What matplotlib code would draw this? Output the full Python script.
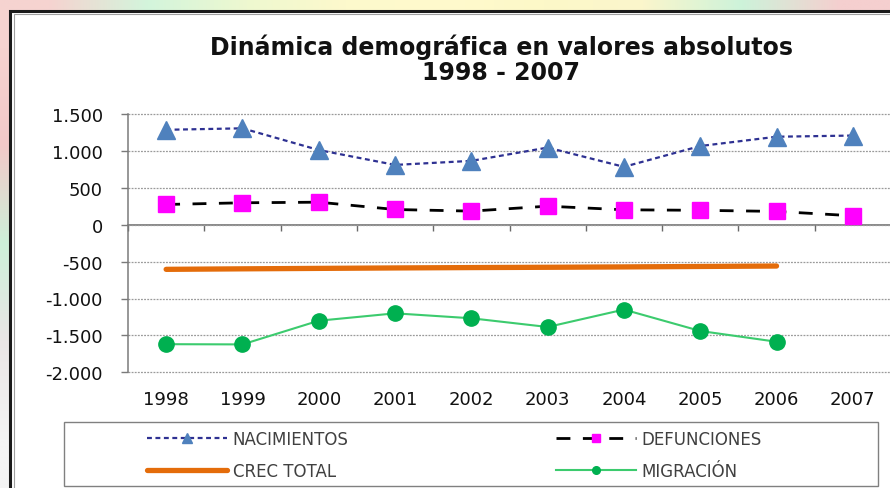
import matplotlib
matplotlib.use("Agg")
import matplotlib.pyplot as plt
import numpy as np
from matplotlib.colors import to_rgb
from matplotlib.patches import Rectangle
from matplotlib.ticker import FuncFormatter, NullFormatter

years = ["1998", "1999", "2000", "2001", "2002", "2003", "2004", "2005", "2006", "2007"]
nacimientos = [1286, 1306, 1012, 810, 865, 1045, 784, 1066, 1192, 1208]
defunciones = [274, 297, 305, 206, 184, 251, 202, 195, 180, 121]
crec_total = [-605, -598, -592, -586, -581, -577, -572, -566, -560]
migracion = [-1619, -1622, -1301, -1201, -1268, -1386, -1150, -1440, -1586]

plt.rcParams["font.family"] = ["DejaVu Sans"]

W, H = 890, 489
fig = plt.figure(figsize=(W / 100, H / 100), dpi=100)


def fx(px):
    return px / W


def fy(py):
    return 1 - py / H


# blurry slide background peeking out around the chart frame
top_cols = ["#f6d3d0", "#d3f5dc", "#eef8d0", "#fdf9cc", "#fffacd",
            "#fdf8c8", "#fbf6cc", "#cdf3da", "#f5cfcf"]
left_cols = ["#f6d3d0", "#f2c9c9", "#cdf0d9", "#eae6e6", "#f4f4f4"]
bg = np.ones((len(left_cols), len(top_cols), 3))
for j, c in enumerate(top_cols):
    bg[0, j] = to_rgb(c)
for i, c in enumerate(left_cols[1:], start=1):
    bg[i, 0] = to_rgb(c)
bg_ax = fig.add_axes([0, 0, 1, 1], zorder=-10)
bg_ax.imshow(bg, aspect="auto", interpolation="bilinear", extent=[0, 1, 0, 1])
bg_ax.set_axis_off()

# chart area frame
fig.patches.append(Rectangle((fx(10), fy(500)), 1.0, fy(12) - fy(500),
                             transform=fig.transFigure, facecolor="white",
                             edgecolor="#1a1a1a", linewidth=2.2, zorder=-5))
fig.patches.append(Rectangle((fx(13.5), fy(500)), 1.0, fy(15) - fy(500),
                             transform=fig.transFigure, facecolor="none",
                             edgecolor="#a0a0a0", linewidth=0.8, zorder=-4))

fig.text(fx(501), fy(59.5), "Dinámica demográfica en valores absolutos\n1998 - 2007",
         ha="center", va="center", fontsize=17, fontweight="bold",
         color="#111111", linespacing=1.05)

ax = fig.add_axes([fx(128), fy(373.3), fx(891) - fx(128), fy(115) - fy(373.3)])
ax.set_facecolor("none")
x = np.arange(len(years))

ax.plot(x, nacimientos, color="#2E3192", linestyle=(0, (2.2, 1.6)), linewidth=1.6,
        marker="^", markersize=13, markerfacecolor="#4F81BD",
        markeredgecolor="#4F81BD", label="NACIMIENTOS", zorder=4)
ax.plot(x, defunciones, color="black", linestyle=(0, (5, 4.5)), linewidth=2.0,
        marker="s", markersize=12, markerfacecolor="#FF00FF",
        markeredgecolor="#FF00FF", label="DEFUNCIONES", zorder=4)
ax.plot(x[:len(crec_total)], crec_total, color="#E46C0A", linewidth=3.8,
        solid_capstyle="round", label="CREC TOTAL", zorder=3)
ax.plot(x[:len(migracion)], migracion, color="#3CCB6E", linewidth=1.5,
        marker="o", markersize=11, markerfacecolor="#00B050",
        markeredgecolor="#00B050", label="MIGRACIÓN", zorder=4)

ax.set_xlim(-0.5, len(years) - 0.5)
ax.set_ylim(-2000, 1500)
ax.set_yticks(np.arange(-2000, 1501, 500))
ax.yaxis.set_major_formatter(FuncFormatter(lambda v, p: f"{int(v):,}".replace(",", ".")))
ax.grid(axis="y", color="#9a9a9a", linestyle=(0, (1.5, 1)), linewidth=0.9)
for gl in ax.yaxis.get_gridlines():
    gl.set_clip_on(False)
ax.set_axisbelow(True)

for s in ["top", "right", "bottom"]:
    ax.spines[s].set_visible(False)
ax.spines["left"].set_color("#7a7a7a")
ax.spines["left"].set_linewidth(1.1)
ax.tick_params(axis="y", direction="out", length=5, color="#7a7a7a", width=1,
               pad=13, labelsize=13, labelcolor="#111111")
ax.set_xticks(x)
ax.set_xticklabels(years)
ax.tick_params(axis="x", length=0, pad=13, labelsize=13, labelcolor="#111111")

# category axis crossing at zero with tick marks (pointing down) between categories
zero_ax = ax.secondary_xaxis(2000 / 3500)
zero_ax.set_xticks(np.arange(-0.5, len(years), 1.0))
zero_ax.xaxis.set_major_formatter(NullFormatter())
zero_ax.tick_params(direction="in", length=4, color="#6a6a6a", width=1,
                    labelbottom=False, labeltop=False)
for s in zero_ax.spines.values():
    s.set_color("#6a6a6a")
    s.set_linewidth(1.1)

# legend box
fig.patches.append(Rectangle((fx(64), fy(487)), fx(878) - fx(64), fy(423) - fy(487),
                             transform=fig.transFigure, facecolor="white",
                             edgecolor="#808080", linewidth=1.0, zorder=1))
h, lab = ax.get_legend_handles_labels()
order = {l: hh for hh, l in zip(h, lab)}
common = dict(frameon=False, fontsize=12, handlelength=4.8, handletextpad=0.35,
              labelspacing=0.85, borderpad=0, borderaxespad=0, markerscale=0.5,
              labelcolor="#404040", loc="upper left", bbox_transform=fig.transFigure)
leg1 = fig.legend([order["NACIMIENTOS"], order["CREC TOTAL"]],
                  ["NACIMIENTOS", "CREC TOTAL"], bbox_to_anchor=(fx(147), fy(431)), **common)
leg2 = fig.legend([order["DEFUNCIONES"], order["MIGRACIÓN"]],
                  ["DEFUNCIONES", "MIGRACIÓN"], bbox_to_anchor=(fx(556), fy(431)), **common)
leg1.set_zorder(5)
leg2.set_zorder(5)

fig.savefig("out.png", dpi=100)
